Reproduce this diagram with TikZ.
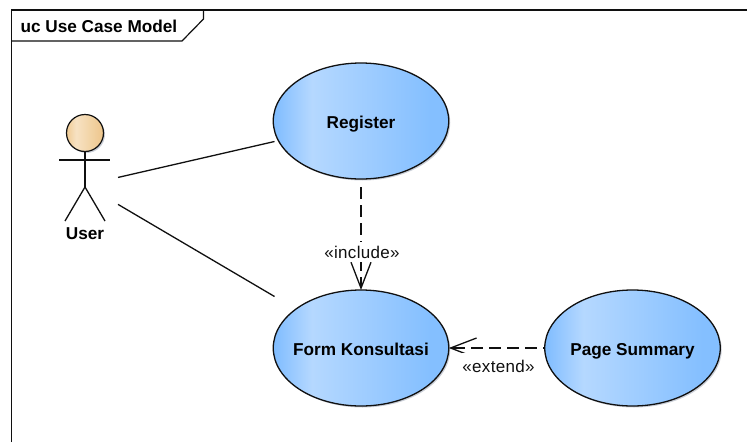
\documentclass[tikz,border=0pt]{standalone}
\usepackage{fontspec}
\setmainfont{Liberation Sans}
\usetikzlibrary{shapes.geometric,arrows.meta,shadows}
\definecolor{inkline}{HTML}{101010}
\definecolor{shadowtone}{HTML}{B4BAC6}
\definecolor{blueedge}{HTML}{7FBCFF}
\definecolor{bluepeak}{HTML}{B5D8FF}
\definecolor{blueend}{HTML}{84BFFF}
\definecolor{tanedge}{HTML}{F0CB94}
\definecolor{tanpeak}{HTML}{F7E2C3}
\definecolor{tanend}{HTML}{EEC88F}
\pgfdeclarehorizontalshading{ucblue}{100bp}{color(0bp)=(blueedge);color(25bp)=(blueedge);color(36bp)=(bluepeak);color(70bp)=(blueend);color(100bp)=(blueend)}
\pgfdeclarehorizontalshading{uctan}{100bp}{color(0bp)=(tanedge);color(25bp)=(tanedge);color(38bp)=(tanpeak);color(72bp)=(tanend);color(100bp)=(tanend)}
\tikzset{
  boldtext/.style={font=\fontsize{17.2}{20}\selectfont\bfseries,text=black},
  usecase/.style={ellipse,draw=inkline,line width=1.3pt,shading=ucblue,minimum width=175.5pt,minimum height=116pt,inner xsep=-30pt,inner ysep=0pt,outer sep=0pt,boldtext,text height=16pt,text depth=2pt,
    drop shadow={shadow xshift=1.5pt,shadow yshift=-1.5pt,fill=shadowtone,opacity=.7}},
  limb/.style={draw=inkline,line width=1.3pt},
  assoc/.style={draw=inkline,line width=1.3pt},
  depline/.style={draw=inkline,line width=1.3pt,dash pattern=on 12pt off 6pt,-{Straight Barb[length=26pt,width=20pt,line width=1.3pt]}},
  conlabel/.style={fill=white,inner sep=0pt,minimum height=20pt,font=\fontsize{17}{20}\selectfont\addfontfeatures{LetterSpace=1.8},text=inkline},
  framing/.style={draw=inkline,line width=1.2pt}
}
\begin{document}
\begin{tikzpicture}[x=1pt,y=-1pt]
\useasboundingbox (0,0) rectangle (747,442);
% frame
\draw[framing] (11.5,442) -- (11.5,10) -- (747,10);
\draw[framing] (11.5,41) -- (182,41) -- (203.5,19) -- (203.5,10);
\node[boldtext,anchor=west,inner sep=0pt] (title) at (20.3,26.5) {uc Use Case Model};
% use cases
\node[usecase] (reg) at (361,121) {Register};
\node[usecase] (form) at (361,348) {Form Konsultasi};
\node[usecase] (page) at (632.5,348) {Page Summary};
% actor
\node[circle,draw=inkline,line width=1.2pt,shading=uctan,minimum size=37pt,inner sep=0pt,outer sep=0pt,
  drop shadow={shadow xshift=1.5pt,shadow yshift=-1.5pt,fill=shadowtone,opacity=.7}] (head) at (85,133) {};
\coordinate (hip) at (85,187);
\coordinate (armL) at (59,160);
\coordinate (armR) at (110,160);
\coordinate (footL) at (65,221);
\coordinate (footR) at (105,221);
\draw[limb] (head.south) -- (hip);
\draw[limb] (armL) -- (armR);
\draw[limb] (footL) -- (hip) -- (footR);
\node[boldtext,inner sep=0pt] (userlabel) at (85,233.5) {User};
\node[minimum width=66pt,minimum height=110pt,inner sep=0pt,outer sep=0pt] (actor) at (85,185) {};
% connector ends, on the bounding boxes of the use cases
\coordinate (regport) at (274.5,141.5);
\coordinate (formport) at (274.5,296.5);
% connectors
\draw[assoc] (actor) -- (regport);
\draw[assoc] (actor) -- (formport);
\draw[depline,dash phase=12pt] ([yshift=-2pt]reg.south) -- (form.north);
\draw[depline,dash phase=10pt] (page) -- (form);
\node[conlabel] (inc) at (362,252) {«include»};
\node[conlabel,minimum height=26pt] (ext) at (498.5,366) {«extend»};
\end{tikzpicture}
\end{document}
